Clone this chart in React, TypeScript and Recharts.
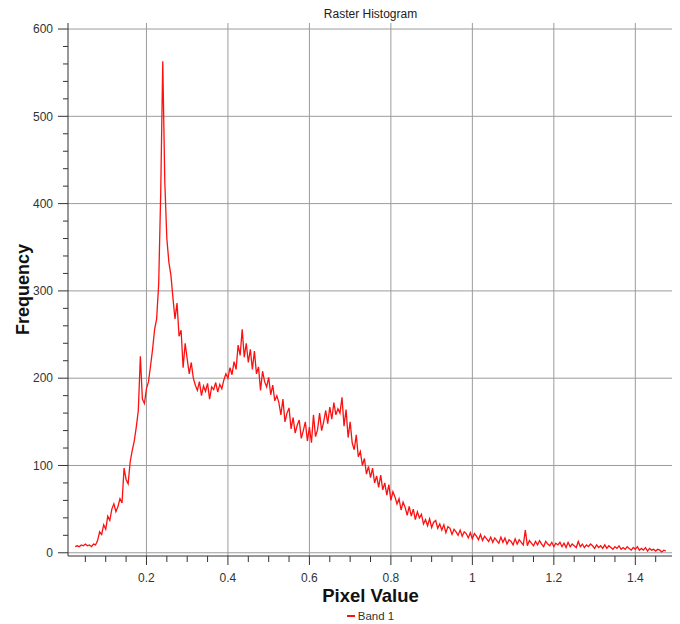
import React from 'react';
import { LineChart, Line, XAxis, YAxis, CartesianGrid, Legend } from 'recharts';

// Histogram bins: start value and bin width of the pixel-value axis
const binStart = 0.025;
const binWidth = 0.005;

// Frequency of each bin (0.025 .. 1.475)
const frequencies: number[] = [
  7, 8, 7, 9, 8, 10, 8, 9, 7, 10,
  9, 14, 24, 21, 32, 27, 42, 37, 50, 56,
  47, 53, 62, 57, 97, 84, 79, 104, 117, 128,
  144, 163, 225, 176, 171, 188, 196, 214, 233, 256,
  268, 308, 412, 563, 425, 360, 333, 318, 292, 268,
  286, 248, 255, 212, 240, 222, 205, 218, 200, 192,
  186, 196, 180, 191, 185, 194, 176, 190, 187, 195,
  184, 193, 188, 198, 205, 200, 212, 204, 219, 210,
  238, 226, 256, 224, 240, 218, 233, 210, 231, 205,
  213, 186, 208, 196, 190, 201, 181, 192, 174, 180,
  172, 158, 176, 150, 160, 166, 142, 155, 137, 146,
  152, 131, 140, 150, 128, 144, 126, 158, 133, 141,
  160, 140, 150, 163, 148, 167, 153, 172, 158, 165,
  160, 178, 145, 164, 132, 150, 126, 118, 135, 110,
  116, 100, 108, 90, 99, 86, 97, 80, 88, 75,
  89, 72, 80, 66, 78, 60, 70, 64, 56, 62,
  49, 58, 52, 43, 53, 42, 50, 38, 47, 40,
  44, 33, 38, 31, 39, 29, 35, 37, 28, 33,
  26, 32, 23, 30, 28, 21, 27, 24, 20, 26,
  19, 24, 22, 17, 23, 16, 22, 19, 15, 21,
  14, 19, 16, 13, 18, 12, 17, 14, 11, 18,
  12, 17, 10, 15, 13, 9, 16, 10, 15, 12,
  9, 26, 8, 14, 11, 8, 13, 9, 14, 10,
  7, 13, 10, 8, 12, 7, 11, 9, 12, 7,
  11, 6, 12, 7, 10, 8, 6, 13, 7, 10,
  6, 9, 7, 10, 8, 5, 9, 6, 8, 5,
  9, 5, 8, 6, 4, 7, 5, 8, 4, 6,
  4, 7, 5, 3, 6, 4, 7, 3, 5, 3,
  6, 2, 5, 3, 4, 2, 4, 3, 1, 3,
  2,
];

// Axis ticks
const xMajorTicks = [0.2, 0.4, 0.6, 0.8, 1, 1.2, 1.4];
const xAllTicks = [
  0.05, 0.1, 0.15, 0.2, 0.25, 0.3, 0.35, 0.4, 0.45, 0.5, 0.55, 0.6, 0.65, 0.7,
  0.75, 0.8, 0.85, 0.9, 0.95, 1, 1.05, 1.1, 1.15, 1.2, 1.25, 1.3, 1.35, 1.4, 1.45,
];
const yMajorTicks = [0, 100, 200, 300, 400, 500, 600];
const yAllTicks = [
  0, 20, 40, 60, 80, 100, 120, 140, 160, 180, 200, 220, 240, 260, 280, 300,
  320, 340, 360, 380, 400, 420, 440, 460, 480, 500, 520, 540, 560, 580, 600,
];
const xDomain: [number, number] = [0.0074, 1.4925];
const yDomain: [number, number] = [-3.7, 606.9];

const title = 'Raster Histogram';
const xTitle = 'Pixel Value';
const yTitle = 'Frequency';
const seriesName = 'Band 1';

const data = frequencies.map((f, i) => ({
  x: +(binStart + i * binWidth).toFixed(3),
  freq: f,
}));

const FONT = '"Liberation Sans", Arial, sans-serif';
const TICK_COLOR = '#333';
const LINE_COLOR = '#ff1010';

const isMajorX = (v: number) => xMajorTicks.some((m) => Math.abs(m - v) < 1e-6);
const isMajorY = (v: number) => yMajorTicks.includes(v);

const XTick = (props: any) => {
  const { x, y, payload } = props;
  const major = isMajorX(payload.value);
  return (
    <g>
      <line x1={x} x2={x} y1={y} y2={y + (major ? 9 : 6)} stroke="#333" strokeWidth={1} />
      {major && (
        <text x={x} y={y + 26} textAnchor="middle" fontFamily={FONT} fontSize={12} fill={TICK_COLOR}>
          {String(payload.value)}
        </text>
      )}
    </g>
  );
};

const YTick = (props: any) => {
  const { x, y, payload } = props;
  const major = isMajorY(payload.value);
  return (
    <g>
      <line x1={x - (major ? 10 : 5)} x2={x} y1={y} y2={y} stroke="#333" strokeWidth={1} />
      {major && (
        <text x={x - 15} y={y + 4.3} textAnchor="end" fontFamily={FONT} fontSize={12} fill={TICK_COLOR}>
          {String(payload.value)}
        </text>
      )}
    </g>
  );
};

const XLabel = (props: any) => {
  const vb = props.viewBox || {};
  return (
    <text
      x={vb.x + vb.width / 2}
      y={vb.y + 45.5}
      textAnchor="middle"
      fontFamily={FONT}
      fontSize={18.5}
      fontWeight="bold"
      fill="#111"
    >
      {xTitle}
    </text>
  );
};

const YLabel = (props: any) => {
  const vb = props.viewBox || {};
  const cx = vb.x + 21;
  const cy = vb.y + vb.height / 2;
  return (
    <text
      x={cx}
      y={cy}
      transform={`rotate(-90 ${cx} ${cy})`}
      textAnchor="middle"
      fontFamily={FONT}
      fontSize={18}
      fontWeight="bold"
      fill="#111"
    >
      {yTitle}
    </text>
  );
};

const LegendContent = () => (
  <div
    style={{
      height: 16,
      display: 'flex',
      justifyContent: 'center',
      alignItems: 'center',
      paddingLeft: 60,
      fontFamily: FONT,
      fontSize: 11.5,
      color: '#333',
      boxSizing: 'border-box',
    }}
  >
    <span style={{ display: 'inline-block', width: 8, height: 1.5, background: LINE_COLOR, marginRight: 3 }} />
    <span>{seriesName}</span>
  </div>
);

export default function App() {
  return (
    <div style={{ position: 'relative', width: 672, height: 616, background: '#fff' }}>
      <div
        style={{
          position: 'absolute',
          top: 0,
          left: 60,
          width: 605,
          textAlign: 'center',
          fontFamily: FONT,
          fontSize: 12,
          lineHeight: '12px',
          color: '#222',
          zIndex: 2,
        }}
      >
        {title}
      </div>
      <LineChart width={672} height={616} data={data} margin={{ top: 15, right: 7, bottom: 0, left: 0 }}>
        <CartesianGrid
          stroke="#9c9c9c"
          strokeWidth={1}
          verticalValues={xMajorTicks}
          horizontalValues={yMajorTicks}
        />
        <XAxis
          dataKey="x"
          type="number"
          domain={xDomain}
          allowDataOverflow
          ticks={xAllTicks}
          interval={0}
          tick={<XTick />}
          tickLine={false}
          tickSize={0}
          tickMargin={0}
          height={52}
          axisLine={{ stroke: '#333' }}
          label={<XLabel />}
        />
        <XAxis
          xAxisId="top"
          orientation="top"
          type="number"
          domain={xDomain}
          allowDataOverflow
          tick={false}
          tickLine={false}
          height={0}
          axisLine={{ stroke: '#333' }}
        />
        <YAxis
          type="number"
          domain={yDomain}
          allowDataOverflow
          ticks={yAllTicks}
          interval={0}
          tick={<YTick />}
          tickLine={false}
          tickSize={0}
          tickMargin={0}
          width={60}
          axisLine={{ stroke: '#333' }}
          label={<YLabel />}
        />
        <YAxis
          yAxisId="right"
          orientation="right"
          type="number"
          domain={yDomain}
          allowDataOverflow
          tick={false}
          tickLine={false}
          width={0}
          axisLine={{ stroke: '#555' }}
        />
        <Legend verticalAlign="bottom" content={<LegendContent />} />
        <Line
          type="linear"
          dataKey="freq"
          name={seriesName}
          stroke={LINE_COLOR}
          strokeWidth={1.3}
          dot={false}
          activeDot={false}
          isAnimationActive={false}
        />
      </LineChart>
    </div>
  );
}
